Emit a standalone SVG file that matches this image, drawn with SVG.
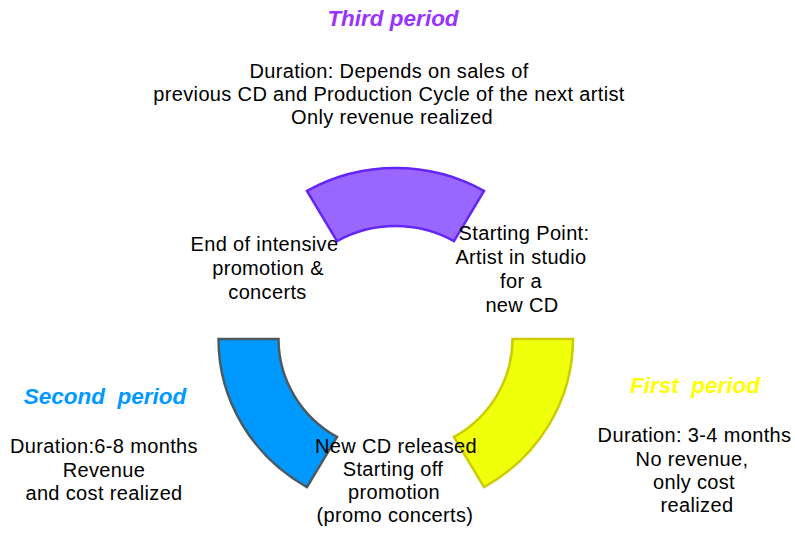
<svg xmlns="http://www.w3.org/2000/svg" width="795" height="534" viewBox="0 0 795 534">
<style>
  .t { font-family: "Liberation Sans", Arial, sans-serif; font-size: 20px; letter-spacing: 0.35px; fill: #000; text-anchor: middle; }
  .h { font-family: "Liberation Sans", Arial, sans-serif; font-size: 22.5px; font-weight: bold; font-style: italic; text-anchor: middle; white-space: pre; }
  .seg { stroke-width: 2.5; stroke-linejoin: miter; }
</style>
<rect width="795" height="534" fill="#fff"/>
<g id="third-segment">
  <path class="seg" fill="#9966FF" stroke="#6326F5" d="M307,190.9 A177,171 0 0 1 484,190.9 L454,241.1 A117,113 0 0 0 337,241.1 Z"/>
</g>
<g id="second-segment">
  <path class="seg" fill="#0099FF" stroke="#4C5A5F" d="M218.5,339 L278.5,339 A117,113 0 0 0 337,436.9 L307,487.1 A177,171 0 0 1 218.5,339 Z"/>
</g>
<g id="first-segment">
  <path class="seg" fill="#F0FF0A" stroke="#CCCC00" d="M512.5,339 L573,339 A177,171 0 0 1 484,487.1 L454,436.9 A117,113 0 0 0 512.5,339 Z"/>
</g>
<g id="third-period">
  <text class="h" x="393" y="26" fill="#9933FF">Third period</text>
  <text class="t" x="389" y="78">Duration: Depends on sales of</text>
  <text class="t" x="389" y="101">previous CD and Production Cycle of the next artist</text>
  <text class="t" x="392" y="124">Only revenue realized</text>
</g>
<g id="second-period">
  <text class="h" x="105" y="404" fill="#0099FF">Second  period</text>
  <text class="t" x="104" y="453">Duration:6-8 months</text>
  <text class="t" x="104" y="477">Revenue</text>
  <text class="t" x="104" y="500">and cost realized</text>
</g>
<g id="first-period">
  <text class="h" x="695" y="393" fill="#FFFF00">First  period</text>
  <text class="t" x="694.5" y="442">Duration: 3-4 months</text>
  <text class="t" x="692" y="466">No revenue,</text>
  <text class="t" x="694" y="489">only cost</text>
  <text class="t" x="697" y="512">realized</text>
</g>
<g id="end-of-promotion">
  <text class="t" x="264.5" y="251">End of intensive</text>
  <text class="t" x="268" y="275">promotion &amp;</text>
  <text class="t" x="267.5" y="299">concerts</text>
</g>
<g id="starting-point">
  <text class="t" x="524" y="240">Starting Point:</text>
  <text class="t" x="521" y="264">Artist in studio</text>
  <text class="t" x="521" y="288">for a</text>
  <text class="t" x="522" y="312">new CD</text>
</g>
<g id="cd-released">
  <text class="t" x="396" y="453">New CD released</text>
  <text class="t" x="393" y="476">Starting off</text>
  <text class="t" x="394" y="499">promotion</text>
  <text class="t" x="395" y="522">(promo concerts)</text>
</g>
</svg>
